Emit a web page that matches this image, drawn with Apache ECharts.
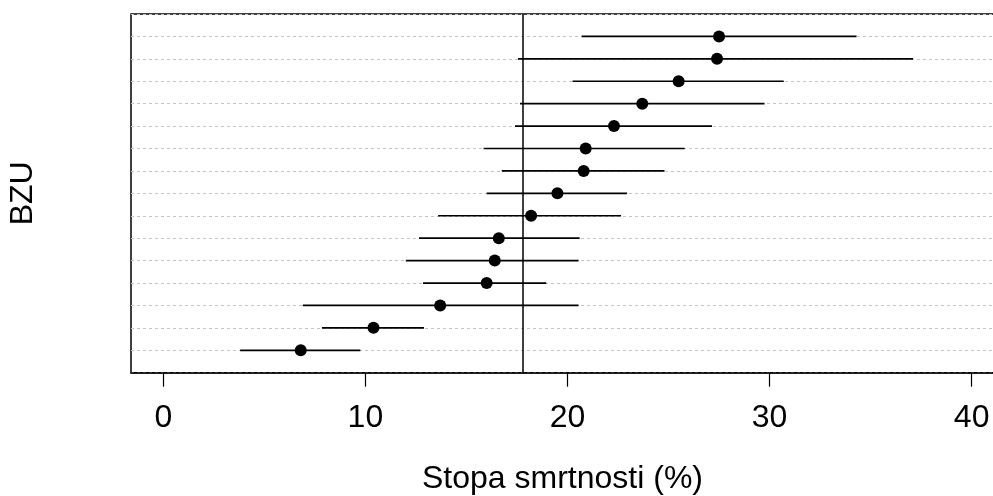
<!DOCTYPE html>
<html>
<head>
<meta charset="utf-8">
<script src="https://cdn.jsdelivr.net/npm/echarts@6/dist/echarts.min.js"></script>
<style>
html,body{margin:0;padding:0;background:#fff;}
#chart{width:993px;height:496px;}
</style>
</head>
<body>
<div id="chart"></div>
<script>
// Rows from bottom (1) to top (15)
const rows = [1,2,3,4,5,6,7,8,9,10,11,12,13,14,15];
const rates = [6.8, 10.4, 13.7, 16.0, 16.4, 16.6, 18.2, 19.5, 20.8, 20.9, 22.3, 23.7, 25.5, 27.4, 27.5];
const lower = [3.8, 7.85, 6.9, 12.85, 12.0, 12.65, 13.6, 16.0, 16.75, 15.85, 17.4, 17.65, 20.25, 17.55, 20.7];
const upper = [9.75, 12.9, 20.55, 18.95, 20.55, 20.6, 22.65, 22.95, 24.8, 25.8, 27.15, 29.75, 30.7, 37.1, 34.3];
const referenceRate = 17.8;
const xTicks = [0, 10, 20, 30, 40];
const xTitle = 'Stopa smrtnosti (%)';
const yTitle = 'BZU';

const font = '"Liberation Sans", Arial, sans-serif';
const chart = echarts.init(document.getElementById('chart'), null, {renderer: 'canvas'});

const ciData = rows.map((r, i) => [lower[i], upper[i], r]);
const dotData = rows.map((r, i) => [rates[i], r]);

chart.setOption({
  animation: false,
  backgroundColor: '#ffffff',
  grid: {
    left: 131, top: 14, width: 873, height: 358.7,
    outerBoundsMode: 'none', containLabel: false,
    show: true, borderColor: '#000', borderWidth: 1.5, backgroundColor: 'transparent'
  },
  xAxis: {
    type: 'value', min: -1.6, max: 41.6,
    name: xTitle, nameLocation: 'middle', nameGap: 90,
    nameTextStyle: {fontFamily: font, fontSize: 32, color: '#000', padding: [0, 10, 0, 0]},
    axisLine: {show: true, onZero: false, lineStyle: {color: '#000', width: 1.5}},
    axisTick: {show: true, customValues: xTicks, length: 14, lineStyle: {color: '#000', width: 1.2}},
    axisLabel: {show: true, customValues: xTicks, margin: 29, fontFamily: font, fontSize: 32, color: '#000'},
    splitLine: {show: false}
  },
  yAxis: {
    type: 'value', min: 0, max: 16, interval: 1,
    name: yTitle, nameLocation: 'middle', nameRotate: 90, nameGap: 92,
    nameTextStyle: {fontFamily: font, fontSize: 32, color: '#000'},
    axisLine: {show: false}, axisTick: {show: false}, axisLabel: {show: false},
    splitLine: {show: true, lineStyle: {color: '#c4c4c4', width: 1, type: [3, 3]}}
  },
  series: [
    {
      type: 'custom',
      data: ciData,
      renderItem: function (params, api) {
        const a = api.coord([api.value(0), api.value(2)]);
        const b = api.coord([api.value(1), api.value(2)]);
        return {
          type: 'line',
          shape: {x1: a[0], y1: a[1], x2: b[0], y2: b[1]},
          style: {stroke: '#000', lineWidth: 1.7}
        };
      },
      encode: {x: [0, 1], y: 2},
      z: 3,
      markLine: {
        silent: true, symbol: 'none', label: {show: false},
        lineStyle: {color: '#000', width: 1.5, type: 'solid'},
        data: [{xAxis: referenceRate}]
      }
    },
    {
      type: 'scatter',
      data: dotData,
      symbol: 'circle', symbolSize: 12,
      itemStyle: {color: '#000', opacity: 1},
      z: 4
    }
  ]
});
</script>
</body>
</html>
